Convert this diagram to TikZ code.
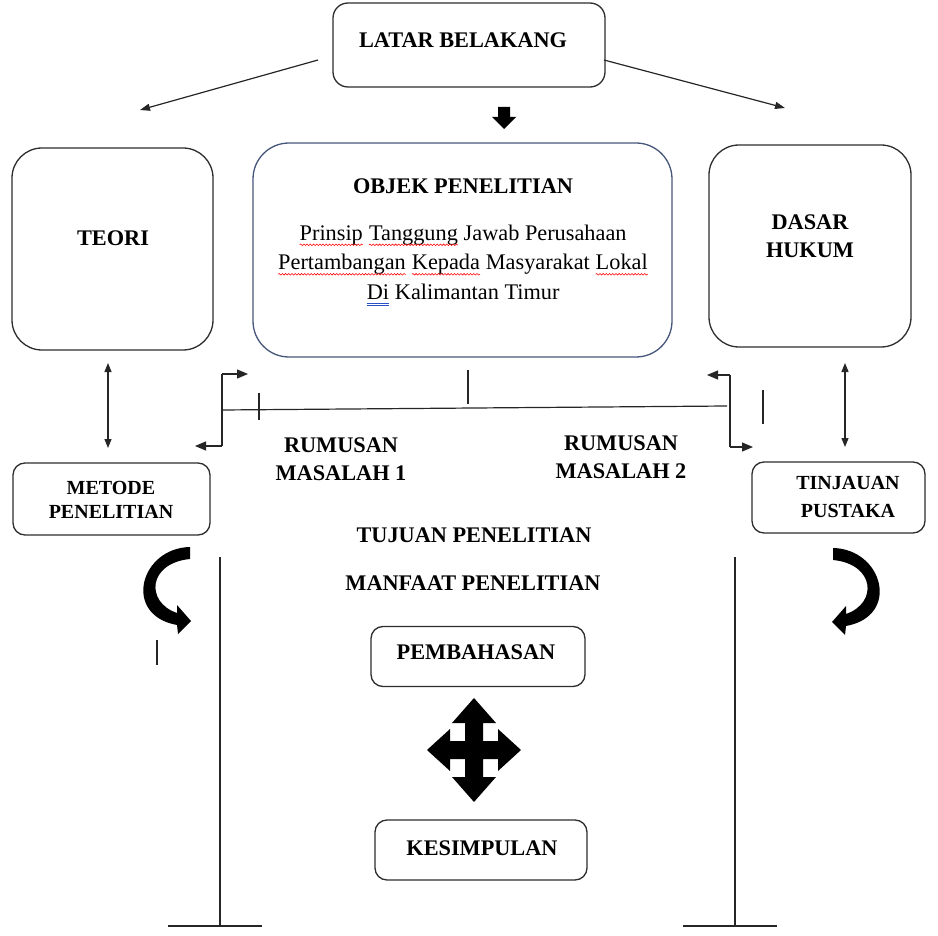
\documentclass[tikz,border=0pt]{standalone}
\usepackage{fontspec}
\setmainfont{Liberation Serif}
\usetikzlibrary{arrows.meta,decorations.pathmorphing}
\definecolor{bord}{RGB}{45,45,45}
\definecolor{slate}{RGB}{70,86,122}
\definecolor{wordblue}{RGB}{40,80,200}
\newcommand\wvline[1]{\tikz[baseline=(w.base)]{\node[inner sep=0pt,outer sep=0pt,anchor=base](w){#1};\draw[red,line width=0.55pt,decorate,decoration={snake,amplitude=0.8pt,segment length=3.2pt}]([yshift=-4.6pt]w.base west)--([yshift=-4.6pt]w.base east);}}
\newcommand\dblline[1]{\tikz[baseline=(w.base)]{\node[inner sep=0pt,outer sep=0pt,anchor=base](w){#1};\draw[wordblue,line width=0.55pt]([yshift=-3.6pt]w.base west)--([yshift=-3.6pt]w.base east);\draw[wordblue,line width=0.55pt]([yshift=-5.6pt]w.base west)--([yshift=-5.6pt]w.base east);}}
\begin{document}
\begin{tikzpicture}[x=1pt,y=-1pt,
  box/.style={draw=bord,line width=1.3pt,rounded corners=#1,inner sep=0pt},
  box/.default=14pt,
  lbl/.style={font=\bfseries\fontsize{22.3}{28}\selectfont,align=center,inner sep=0pt},
  slbl/.style={font=\bfseries\fontsize{20}{24}\selectfont,align=center,inner sep=0pt},
  ln/.style={draw=black!85,line width=1.2pt},
  arr/.style={ln,-{Triangle[length=11pt,width=9pt]}},
  darr/.style={ln,{Triangle[length=9pt,width=7pt]}-{Triangle[length=9pt,width=7pt]}}]
\useasboundingbox (0,0) rectangle (938,936);

% boxes
\node[box=15pt,minimum width=272pt,minimum height=84pt] (latar) at (469,45) {};
\node[lbl] (latart) at (463,40) {LATAR BELAKANG};
\node[box=30pt,minimum width=201pt,minimum height=202pt] (teori) at (112.5,249) {};
\node[lbl] (teorit) at (113,238) {TEORI};
\node[box=36pt,draw=slate,minimum width=419pt,minimum height=214pt] (objek) at (462.5,250) {};
\node[inner sep=0pt,align=center,font=\fontsize{22.3}{29.5}\selectfont] (objekt) at (463,242)
  {\textbf{OBJEK PENELITIAN}\\[17pt]
   \wvline{Prinsip} \wvline{Tanggung} Jawab Perusahaan\\
   \wvline{Pertambangan} \wvline{Kepada} Masyarakat \wvline{Lokal}\\
   \dblline{Di} Kalimantan Timur};
\node[box=30pt,minimum width=202pt,minimum height=202pt] (dasar) at (810,246) {};
\node[lbl] (dasart) at (810,236) {DASAR\\HUKUM};
\node[box=12pt,minimum width=197pt,minimum height=72pt] (metode) at (111.5,499) {};
\node[slbl] (metodet) at (111,500) {METODE\\PENELITIAN};
\node[box=12pt,minimum width=173pt,minimum height=71pt] (tinjau) at (838.5,497.5) {};
\node[slbl,font=\bfseries\fontsize{20}{28}\selectfont] (tinjaut) at (848,497) {TINJAUAN\\PUSTAKA};
\node[box=12pt,minimum width=214pt,minimum height=60pt] (bahas) at (478,656.5) {};
\node[lbl] (bahast) at (476,652) {PEMBAHASAN};
\node[box=12pt,minimum width=212pt,minimum height=60pt] (simpul) at (481,850) {};
\node[lbl] (simpult) at (482,848) {KESIMPULAN};

% free labels
\node[lbl] (rm1) at (341,459) {RUMUSAN\\MASALAH 1};
\node[lbl] (rm2) at (621,457) {RUMUSAN\\MASALAH 2};
\node[lbl] (tujuan) at (474,535) {TUJUAN PENELITIAN};
\node[lbl] (manfaat) at (473,583) {MANFAAT PENELITIAN};

% diagonal arrows from LATAR BELAKANG
\coordinate (d1s) at (318,60); \coordinate (d1e) at (140,110);
\coordinate (d2s) at (604,60); \coordinate (d2e) at (785,108);
\draw[ln,-{Triangle[length=10pt,width=7pt]}] (d1s) -- (d1e);
\draw[ln,-{Triangle[length=10pt,width=7pt]}] (d2s) -- (d2e);

% block arrow down
\fill (498,107) -- (510,107) -- (510,117) -- (516,117) -- (504,129) -- (492,117) -- (498,117) -- cycle;

% double arrows
\coordinate (t1) at (108,363); \coordinate (t2) at (108,448);
\coordinate (h1) at (845,363); \coordinate (h2) at (845,447);
\draw[darr] (t1) -- (t2);
\draw[darr] (h1) -- (h2);

% bracket structure
\coordinate (lb1) at (222,374); \coordinate (lb2) at (222,446);
\coordinate (lbm) at (222,410);
\coordinate (la1) at (248,374); \coordinate (la2) at (195,446);
\coordinate (rb1) at (730,375); \coordinate (rb2) at (730,447);
\coordinate (rbm) at (727,406);
\coordinate (ra1) at (707,375); \coordinate (ra2) at (753,447);
\draw[ln] (lb1) -- (lb2);
\draw[arr] (lb1) -- (la1);
\draw[arr] (lb2) -- (la2);
\draw[ln] (rb1) -- (rb2);
\draw[arr] (rb1) -- (ra1);
\draw[arr] (rb2) -- (ra2);
\draw[ln] (lbm) -- (rbm);

% ticks
\coordinate (k1a) at (259,393); \coordinate (k1b) at (259,420);
\coordinate (k2a) at (468,370); \coordinate (k2b) at (468,404);
\coordinate (k3a) at (763,390); \coordinate (k3b) at (763,424);
\coordinate (k4a) at (157,640); \coordinate (k4b) at (157,665);
\draw[ln] (k1a) -- (k1b);
\draw[ln] (k2a) -- (k2b);
\draw[ln] (k3a) -- (k3b);
\draw[ln] (k4a) -- (k4b);

% bottom T lines
\coordinate (lv1) at (220,557); \coordinate (lv2) at (220,926);
\coordinate (lh1) at (168,926); \coordinate (lh2) at (262,926);
\coordinate (rv1) at (735,557); \coordinate (rv2) at (735,926);
\coordinate (rh1) at (683,926); \coordinate (rh2) at (777,926);
\draw[ln] (lv1) -- (lv2);
\draw[ln] (lh1) -- (lh2);
\draw[ln] (rv1) -- (rv2);
\draw[ln] (rh1) -- (rh2);

% curved arrows
\fill (190,547) .. controls (140,548) and (122,615) .. (177,625) -- (178,634) -- (191,621) -- (177,605) -- (177,613) .. controls (145,602) and (148,563) .. (190,559) -- cycle;
\fill (833,548) .. controls (883,549) and (901,616) .. (846,626) -- (845,635) -- (832,622) -- (846,606) -- (846,614) .. controls (878,603) and (875,564) .. (833,560) -- cycle;

% four-way arrow
\fill[shift={(474,750)}] (0,-52) -- (22,-27) -- (9,-27) -- (9,-9) -- (24,-9) -- (24,-21) -- (47,0) -- (24,21) -- (24,9) -- (9,9) -- (9,27) -- (22,27) -- (0,52) -- (-22,27) -- (-9,27) -- (-9,9) -- (-24,9) -- (-24,21) -- (-47,0) -- (-24,-21) -- (-24,-9) -- (-9,-9) -- (-9,-27) -- (-22,-27) -- cycle;
\end{tikzpicture}
\end{document}
